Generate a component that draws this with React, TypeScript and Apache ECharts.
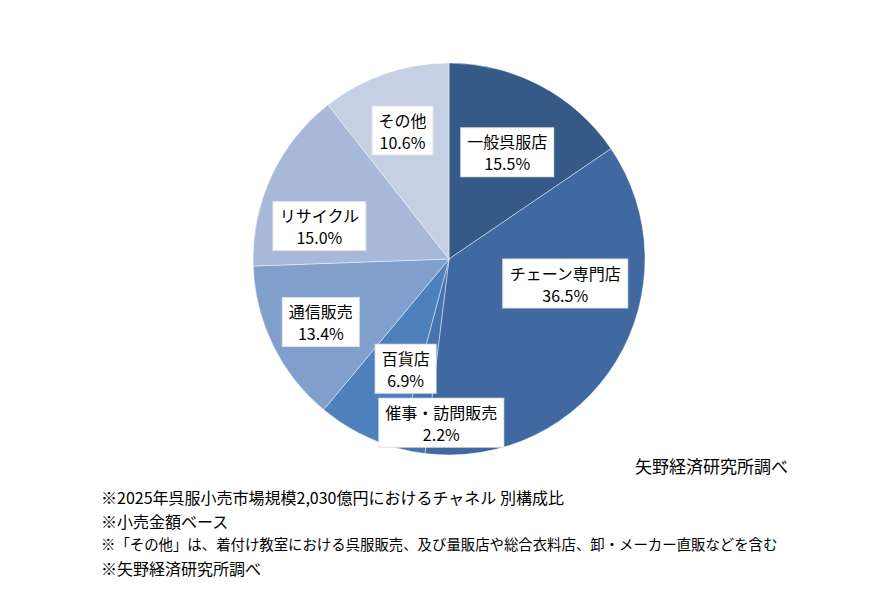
import React, { useEffect, useRef } from "react";
import * as echarts from "echarts";

const categories = ["一般呉服店", "チェーン専門店", "催事・訪問販売", "百貨店", "通信販売", "リサイクル", "その他"];
const shares = [15.5, 36.5, 2.2, 6.9, 13.4, 15.0, 10.6];
const colors = ["#355A88", "#3F69A0", "#4674AF", "#4E80BD", "#819FCD", "#A8B8D8", "#C6D0E4"];
// label nudges from the default inside position (Excel hand-placed labels)
const labelShiftX = [11, 30, 11.5, 3, -37.5, -38, -13.5];
const labelShiftY = [-17.5, -28, 64.5, 20, 18.5, 9.5, -33];
const sourceNote = "矢野経済研究所調べ";
const footnotes = [
  "※2025年呉服小売市場規模2,030億円におけるチャネル 別構成比",
  "※小売金額ベース",
  "※「その他」は、着付け教室における呉服販売、及び量販店や総合衣料店、卸・メーカー直販などを含む",
  "※矢野経済研究所調べ",
];
const footnoteSizes = [16, 16, 14.4, 16];

const FONT = '"Noto Sans CJK JP", "Noto Sans", sans-serif';

export default function App() {
  const ref = useRef<HTMLDivElement>(null);
  useEffect(() => {
    document.body.style.margin = "0";
    if (!ref.current) return;
    const chart = echarts.init(ref.current, null, { renderer: "svg" });
    const data = categories.map((name, i) => ({
      name,
      value: shares[i],
      itemStyle: { color: colors[i] },
    }));
    chart.setOption({
      animation: false,
      backgroundColor: "#ffffff",
      textStyle: { fontFamily: FONT },
      series: [
        {
          type: "pie",
          center: [449, 259],
          radius: 196,
          startAngle: 90,
          clockwise: true,
          avoidLabelOverlap: false,
          itemStyle: { borderColor: "rgba(255,255,255,0.55)", borderWidth: 0.8 },
          label: {
            show: true,
            position: "inside",
            formatter: (p: any) => `${p.name}\n${Number(p.value).toFixed(1)}%`,
            color: "#000",
            fontSize: 16,
            lineHeight: 22,
            fontFamily: FONT,
            backgroundColor: "#ffffff",
            borderColor: "#e2e2e2",
            borderWidth: 1,
            padding: [2, 6, 2, 6],
            align: "center",
          },
          labelLine: { show: false },
          labelLayout: (p: any) => ({ dx: labelShiftX[p.dataIndex], dy: labelShiftY[p.dataIndex] }),
          emphasis: { disabled: true },
          data,
        },
      ],
      graphic: [
        {
          type: "text",
          left: 635,
          top: 457,
          style: { text: sourceNote, fontSize: 17, fill: "#000", fontFamily: FONT },
        },
        ...footnotes.map((t, i) => ({
          type: "text",
          left: 101,
          top: 489 + i * 23.5,
          style: { text: t, fontSize: footnoteSizes[i], fill: "#000", fontFamily: FONT },
        })),
      ],
    });
    return () => chart.dispose();
  }, []);
  return <div ref={ref} style={{ width: 881, height: 593 }} />;
}
